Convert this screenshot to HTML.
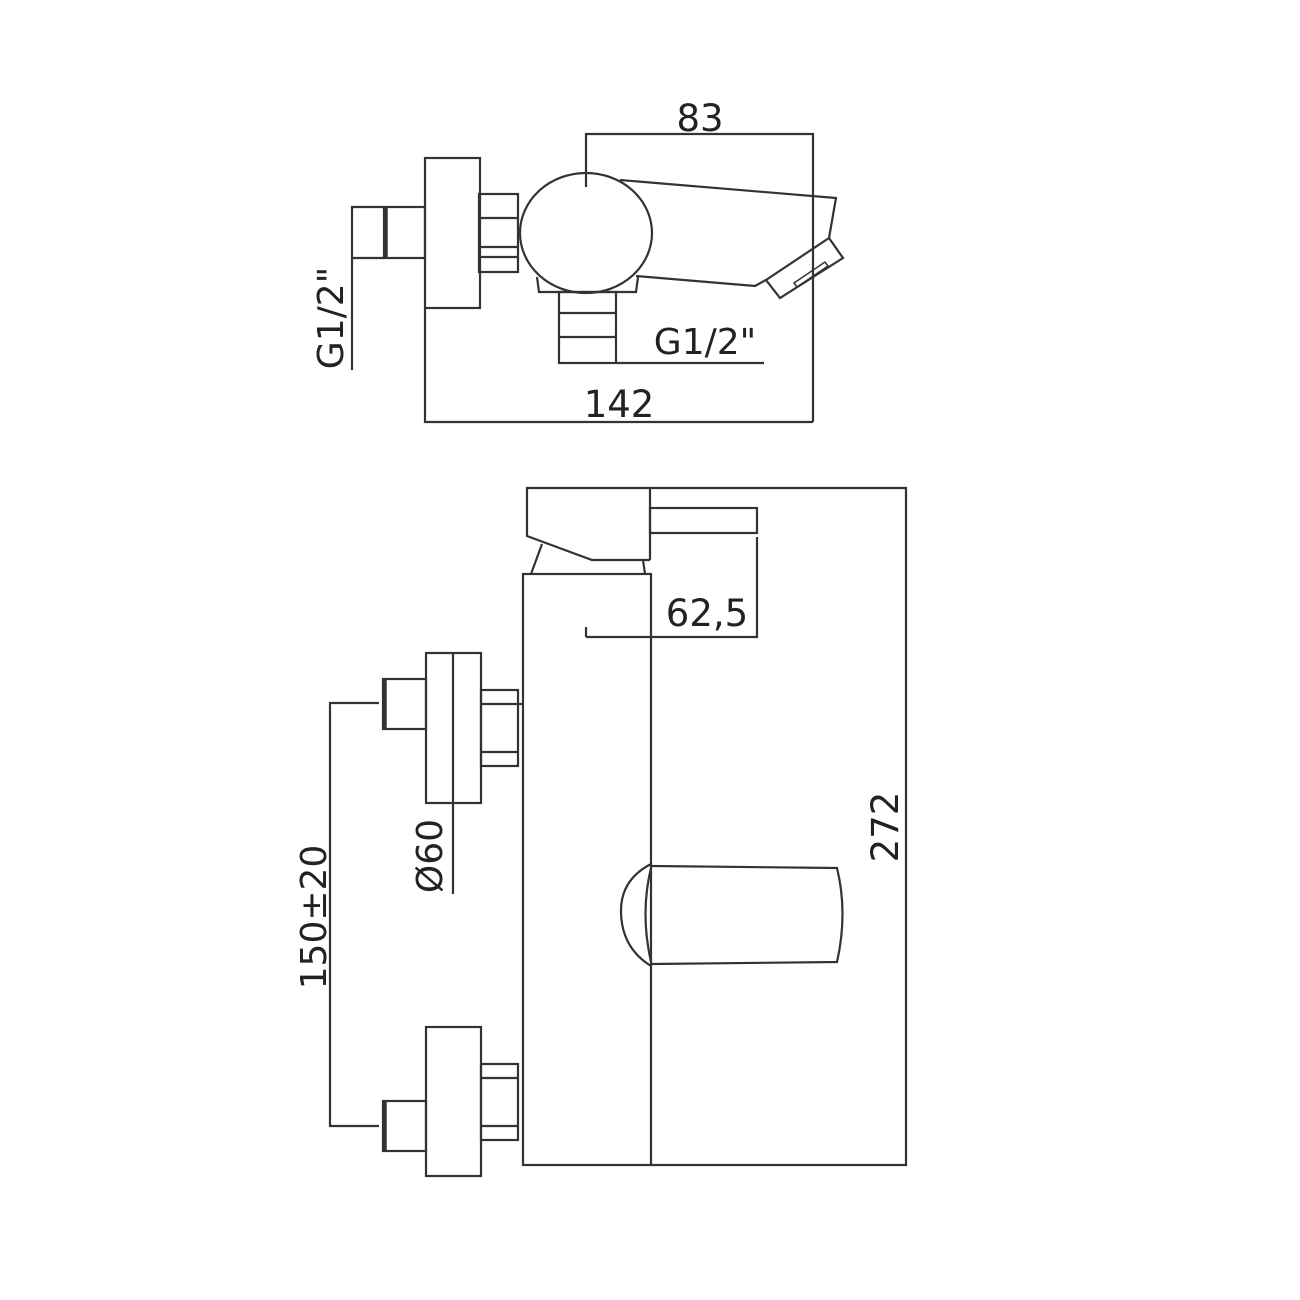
<!DOCTYPE html>
<html><head><meta charset="utf-8"><style>
html,body{margin:0;padding:0;background:#fff;}
svg{display:block;}
text{font-family:"DejaVu Sans","Liberation Sans",sans-serif;fill:#222;}
</style></head><body>
<svg width="1300" height="1300" viewBox="0 0 1300 1300" xmlns="http://www.w3.org/2000/svg">
<rect width="1300" height="1300" fill="#fff"/>
<g fill="none" stroke="#333" stroke-width="2.2" stroke-linejoin="miter">
<polyline points="586,187 586,134 813,134 813,422"/>
<polyline points="425,308 425,422 813,422"/>
<polyline points="384,207 352,207 352,370"/>
<line x1="352" y1="258" x2="384" y2="258"/>
<rect x="425" y="158" width="55" height="150"/>
<rect x="384" y="207" width="41" height="51"/>
<line x1="386" y1="207" x2="386" y2="258" stroke-width="3.5"/>
<rect x="479" y="194" width="39" height="78"/>
<line x1="479" y1="218" x2="518" y2="218"/>
<line x1="479" y1="247" x2="518" y2="247"/>
<line x1="479" y1="257" x2="518" y2="257"/>
<ellipse cx="586" cy="233" rx="66" ry="60"/>
<polyline points="620,180 836,198 829,238"/>
<polyline points="636,276 755,286 766,280"/>
<polygon points="766,280 829,238 843,258 780,298"/>
<polygon points="794,283 825,262 828,266 797,287" stroke-width="1.5"/>
<polyline points="537,277 539,292 636,292 638,277"/>
<rect x="559" y="292" width="57" height="71"/>
<line x1="559" y1="313" x2="616" y2="313"/>
<line x1="559" y1="337" x2="616" y2="337"/>
<line x1="616" y1="363" x2="764" y2="363"/>

<polyline points="650,488 527,488 527,536 592,560 650,560"/>
<line x1="650" y1="488" x2="650" y2="560"/>
<rect x="650" y="508" width="107" height="25"/>
<line x1="531" y1="574" x2="542" y2="544"/>
<line x1="645" y1="574" x2="643" y2="560"/>
<rect x="523" y="574" width="128" height="591"/>
<polyline points="650,488 906,488 906,1165 651,1165"/>
<polyline points="757,537 757,637 586,637"/>
<line x1="586" y1="627" x2="586" y2="637"/>
<rect x="426" y="653" width="55" height="150"/>
<line x1="453" y1="653" x2="453" y2="894"/>
<rect x="383" y="679" width="43" height="50"/>
<line x1="385" y1="679" x2="385" y2="729" stroke-width="3.5"/>
<rect x="481" y="690" width="37" height="76"/>
<line x1="481" y1="704" x2="518" y2="704"/>
<line x1="481" y1="752" x2="518" y2="752"/>
<line x1="518" y1="704" x2="522" y2="704"/>
<polyline points="379,703 330,703 330,1126 379,1126"/>
<rect x="426" y="1027" width="55" height="149"/>
<rect x="383" y="1101" width="43" height="50"/>
<line x1="385" y1="1101" x2="385" y2="1151" stroke-width="3.5"/>
<rect x="481" y="1064" width="37" height="76"/>
<line x1="481" y1="1078" x2="518" y2="1078"/>
<line x1="481" y1="1126" x2="518" y2="1126"/>
<path d="M651,866 L837,868 Q848,913 837,962 L651,964"/>
<path d="M651,864 Q620,880 621,913 Q622,948 651,966"/>
<path d="M651,868 Q640,913 651,962"/>
</g>
<text x="700" y="131" font-size="37" text-anchor="middle">83</text>
<text x="705" y="354" font-size="36" text-anchor="middle">G1/2"</text>
<text x="619" y="417" font-size="37" text-anchor="middle">142</text>
<text transform="translate(343,318) rotate(-90)" font-size="36" text-anchor="middle">G1/2"</text>
<text x="707" y="626" font-size="37" text-anchor="middle">62,5</text>
<text transform="translate(898,827) rotate(-90)" font-size="37" text-anchor="middle">272</text>
<text transform="translate(442,856) rotate(-90)" font-size="36" text-anchor="middle">Ø60</text>
<text transform="translate(326,917) rotate(-90)" font-size="36" text-anchor="middle">150±20</text>
</svg>
</body></html>
